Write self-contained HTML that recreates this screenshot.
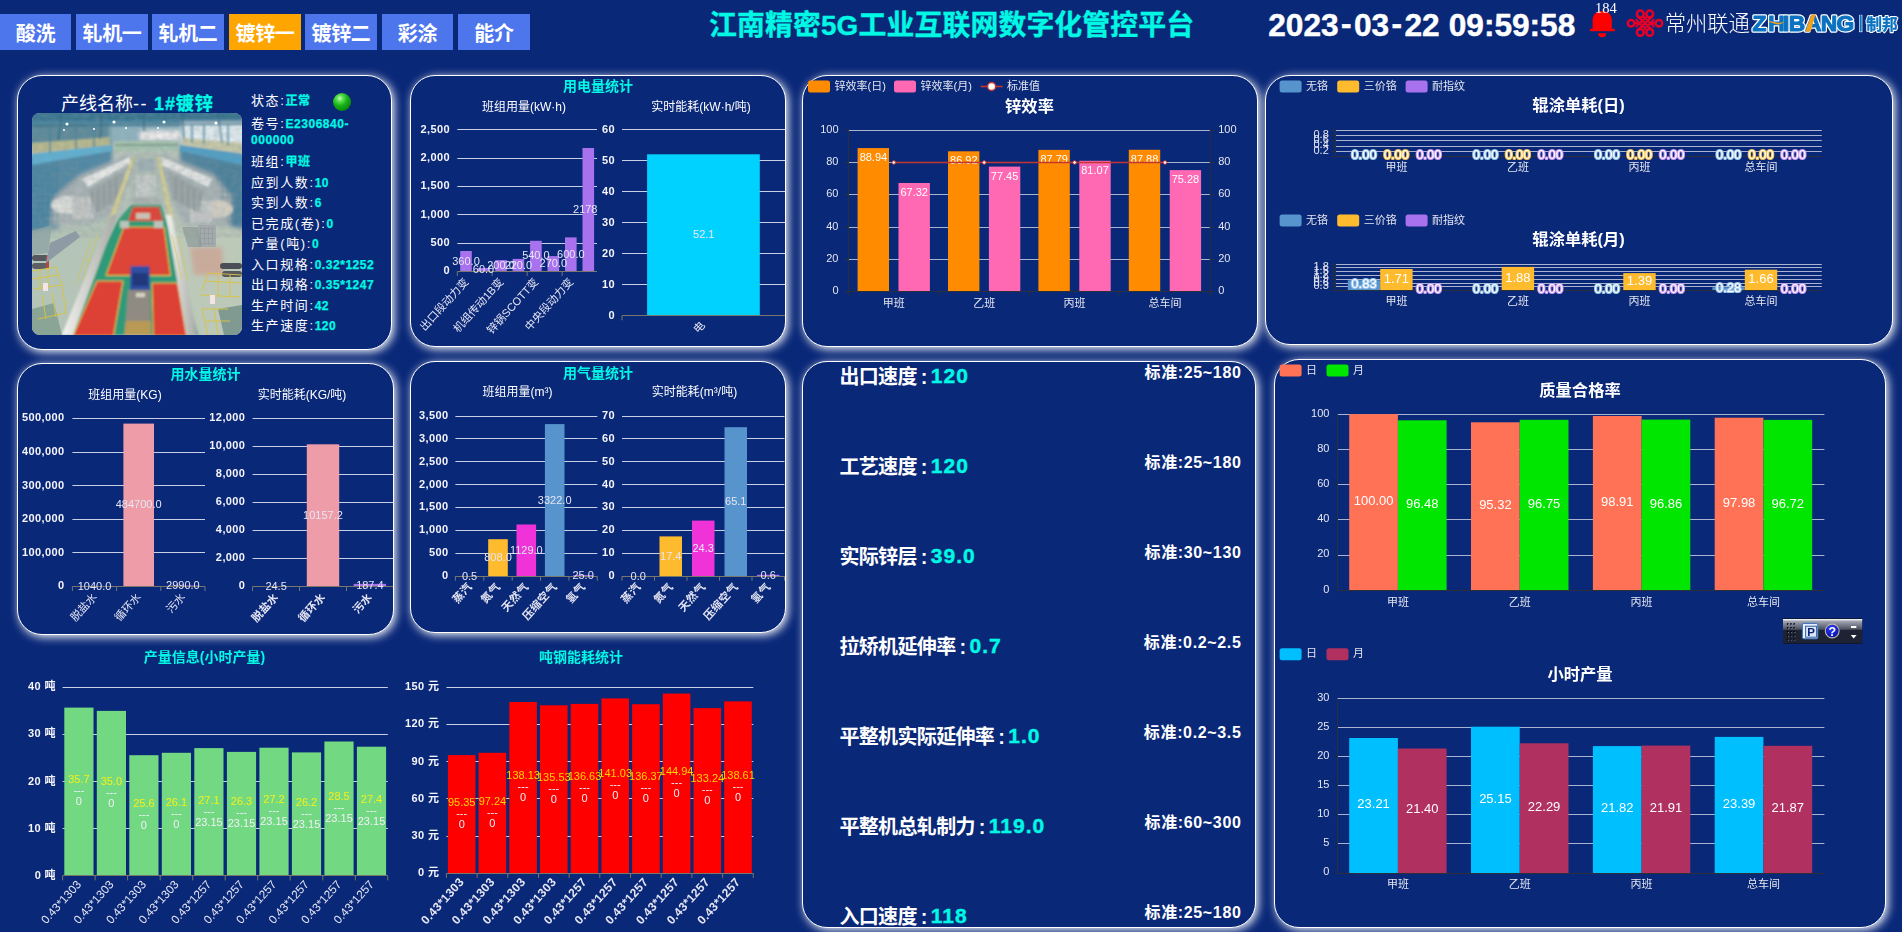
<!DOCTYPE html>
<html lang="zh-CN"><head><meta charset="utf-8"><title>江南精密5G工业互联网数字化管控平台</title>
<style>
*{margin:0;padding:0;box-sizing:border-box}
html,body{width:1902px;height:932px;overflow:hidden;background:#0a2878;}
body{position:relative;font-family:"Liberation Sans","Noto Sans CJK SC",sans-serif;color:#fff;}
.abs{position:absolute}
.tab{position:absolute;top:14px;height:36px;background:#4e76ec;color:#fff;font-weight:bold;font-size:20px;line-height:41px;text-align:center;white-space:nowrap;letter-spacing:-0.3px}
.tab.on{background:#ffa500}
.panel{position:absolute;border:1px solid #fff;border-radius:25px;box-shadow:2px 2px 10px rgba(255,255,255,.97);background:#0a2878}
.t{position:absolute;white-space:nowrap;line-height:1}
.cy{color:#00f8e4}
#clock{-webkit-text-stroke:0.45px #fff}
#clock i{display:inline-block;font-style:normal;text-align:center}
#clock .hy{width:15.3px;position:relative;top:-2px}
#clock .sp{width:9.1px}
#clock .co{width:10.5px}
.b{font-weight:bold}
svg{position:absolute;left:0;top:0;overflow:visible}
svg text{font-family:"Liberation Sans","Noto Sans CJK SC",sans-serif}
.info{position:absolute;left:251px;font-size:13px;letter-spacing:1.6px;white-space:nowrap;line-height:16px;color:#fff}
.info b{color:#00f8e4;font-size:12px;letter-spacing:0.55px;-webkit-text-stroke:0.25px #00f8e4}
.row{position:absolute;left:839.4px;font-size:20px;letter-spacing:-0.65px;font-weight:bold;white-space:nowrap;line-height:24px}
.std{position:absolute;right:660.5px;font-size:16px;font-weight:bold;white-space:nowrap;line-height:20px;letter-spacing:0.65px}
.row i{font-style:normal;margin:0 1.2px 0 4px}
.row span{letter-spacing:1px;margin-left:2.8px;font-size:21px;position:relative;top:-1.2px;-webkit-text-stroke:0.4px #00f8e4}
</style></head><body>
<div class="panel" style="left:17px;top:75px;width:375px;height:275px"></div>
<div class="panel" style="left:410px;top:75px;width:376px;height:272px"></div>
<div class="panel" style="left:802px;top:75px;width:456px;height:272px"></div>
<div class="panel" style="left:1265px;top:75px;width:628px;height:270px"></div>
<div class="panel" style="left:17px;top:363px;width:377px;height:272px"></div>
<div class="panel" style="left:410px;top:361px;width:376px;height:272px"></div>
<div class="panel" style="left:802px;top:361px;width:454px;height:567px"></div>
<div class="panel" style="left:1274px;top:359px;width:612px;height:569px"></div>
<div class="tab" style="left:0px;width:71px">酸洗</div>
<div class="tab" style="left:76px;width:72px">轧机一</div>
<div class="tab" style="left:152px;width:72px">轧机二</div>
<div class="tab on" style="left:229px;width:72px">镀锌一</div>
<div class="tab" style="left:305px;width:72px">镀锌二</div>
<div class="tab" style="left:382px;width:71px">彩涂</div>
<div class="tab" style="left:458px;width:72px">能介</div>
<div class="t b cy" id="title" style="left:709px;top:12.3px;font-size:27.85px;letter-spacing:0.15px;-webkit-text-stroke:0.35px #00f8e4">江南精密5G工业互联网数字化管控平台</div>
<div class="t b" id="clock" style="left:1268.2px;top:9.8px;font-size:31.65px">2023<i class="hy">-</i>03<i class="hy">-</i>22<i class="sp"></i>09<i class="co">:</i>59<i class="co">:</i>58</div>
<div class="t" id="p1t" style="left:61px;top:94px;font-size:18px;line-height:20px">产线名称<span style="letter-spacing:1.5px">--</span> <span class="cy b" style="margin-left:1px;letter-spacing:0.9px;-webkit-text-stroke:0.3px #00f8e4">1#镀锌</span></div>
<div class="info" style="top:93.3px">状态:<b>正常</b></div>
<div class="info" style="top:116.4px">卷号:<b>E2306840-</b></div>
<div class="info" style="top:154.0px">班组:<b>甲班</b></div>
<div class="info" style="top:174.5px">应到人数:<b>10</b></div>
<div class="info" style="top:194.5px">实到人数:<b>6</b></div>
<div class="info" style="top:215.6px">已完成(卷):<b>0</b></div>
<div class="info" style="top:235.8px">产量(吨):<b>0</b></div>
<div class="info" style="top:256.7px">入口规格:<b>0.32*1252</b></div>
<div class="info" style="top:277.2px">出口规格:<b>0.35*1247</b></div>
<div class="info" style="top:297.7px">生产时间:<b>42</b></div>
<div class="info" style="top:318.1px">生产速度:<b>120</b></div>
<div class="info" style="top:132.4px"><b>000000</b></div>
<div class="abs" style="left:333px;top:93px;width:18px;height:18px;border-radius:50%;background:radial-gradient(circle at 38% 30%,#c8ffc0 0%,#5fe050 18%,#16b016 45%,#0a8a0a 75%,#066006 100%)"></div>
<svg style="left:32px;top:113px;border-radius:8px;overflow:hidden" width="210" height="222" viewBox="0 0 210 222">
<defs>
<filter id="bl1" x="-10%" y="-10%" width="120%" height="120%"><feGaussianBlur stdDeviation="0.9"/></filter>
<filter id="bl2" x="-10%" y="-10%" width="120%" height="120%"><feGaussianBlur stdDeviation="2"/></filter>
<filter id="bl05" x="-10%" y="-10%" width="120%" height="120%"><feGaussianBlur stdDeviation="0.5"/></filter>
<linearGradient id="roof" x1="0" y1="0" x2="0" y2="1"><stop offset="0" stop-color="#2f6a86"/><stop offset="1" stop-color="#4f8ea8"/></linearGradient>
<linearGradient id="cvl" x1="0" y1="0" x2="1" y2="0"><stop offset="0" stop-color="#f2f2ee"/><stop offset="1" stop-color="#a8aaa6"/></linearGradient>
<filter id="nz" x="0" y="0" width="100%" height="100%"><feTurbulence type="fractalNoise" baseFrequency="0.16 0.2" numOctaves="2" seed="7" result="t"/><feColorMatrix type="matrix" values="0 0 0 0 0.25  0 0 0 0 0.3  0 0 0 0 0.32  0.9 0.9 0 0 -0.62"/></filter>
<pattern id="grid" width="5" height="6" patternUnits="userSpaceOnUse"><path d="M0 0H5M0 0V6" stroke="#3c6f86" stroke-width="1" fill="none"/></pattern>
<pattern id="grid2" width="4" height="5" patternUnits="userSpaceOnUse"><path d="M0 0H4M0 0V5" stroke="#7c8c90" stroke-width=".7" fill="none"/></pattern>
</defs>
<rect width="210" height="222" fill="#b9c4bb"/>
<g filter="url(#bl2)">
<rect x="-5" y="-5" width="220" height="20" fill="url(#roof)"/>
<rect x="-5" y="12" width="85" height="20" fill="#5d8a9a"/>
<rect x="78" y="12" width="75" height="18" fill="#8fb4c0"/>
<rect x="150" y="10" width="65" height="22" fill="#dfeaee"/>
<rect x="108" y="18" width="40" height="9" fill="#f0ecec"/>
<polygon points="-5,44 80,34 80,62 46,70 26,118 -5,124" fill="#4f88a6"/>
<polygon points="215,44 148,34 148,60 178,70 192,112 215,118" fill="#4f849e"/>
<polygon points="48,62 100,40 101,62 84,100 62,112 18,112 22,84" fill="#aab4b6"/>
<polygon points="128,40 182,62 200,84 198,114 152,112 130,64" fill="#a8b2b4"/>
<polygon points="101,40 127,40 132,96 98,96" fill="#aebcb4"/>
<polygon points="-5,120 62,110 84,100 30,222 -5,222" fill="#b4c4b6"/>
<polygon points="134,100 156,112 215,116 215,222 166,222" fill="#bcc8b8"/>
<polygon points="158,134 190,134 192,162 162,162" fill="#c9ab9c"/>
</g>
<g filter="url(#bl1)">
<polygon points="0,52 26,46 26,110 0,116" fill="url(#grid)" opacity=".8"/>
<polygon points="26,50 46,46 46,70 28,100" fill="url(#grid2)" opacity=".8"/>
<polygon points="182,50 210,52 210,112 192,108" fill="url(#grid)" opacity=".8"/>
<polygon points="0,30 78,24 78,32 0,40" fill="#b8b98c"/>
<polygon points="150,25 210,30 210,40 150,32" fill="#c6c7a6"/>
<polygon points="0,41 80,32 80,38 0,52" fill="#5eb0d2"/>
<polygon points="148,32 210,41 210,52 148,38" fill="#4f9fc6"/>
<rect x="83" y="28" width="63" height="10" fill="#a8c4b0"/>
<rect x="83" y="31" width="63" height="2" fill="#7fa08c"/>
<g stroke="#2f6680" stroke-width="1.6" opacity=".75"><path d="M0 6 L210 4 M0 13 L210 11 M30 0 L26 28 M70 0 L68 26 M112 0 L112 18 M150 0 L152 26 M186 0 L190 30"/></g>
<g stroke="#3b7f9c" stroke-width="1.6" opacity=".8"><path d="M160 12 L160 30 M172 12 L172 31 M196 12 L196 33 M18 14 L18 40 M44 14 L44 36 M62 14 L62 34"/></g>
<ellipse cx="36" cy="92" rx="17" ry="9" fill="#dadcd8"/><rect x="40" y="84" width="22" height="22" fill="#c2c6c4"/>
<ellipse cx="184" cy="96" rx="17" ry="9" fill="#d4cfc4"/><rect x="158" y="88" width="22" height="22" fill="#c4c8c6"/>
<polygon points="50,66 98,44 98,50 56,74" fill="#e4e6e4"/><polygon points="130,44 180,66 176,74 130,52" fill="#e2e4e2"/>
<polygon points="56,78 92,58 90,86 64,100" fill="#9aa4a4" opacity=".8"/><polygon points="136,58 172,78 166,100 140,86" fill="#9aa4a4" opacity=".8"/>
<g stroke="#6c7878" stroke-width=".8" opacity=".7"><path d="M60 80V100M66 76V98M72 72V94M78 68V90M84 64V86M144 64V86M150 68V90M156 72V94M162 76V98M168 80V100"/></g>
<rect x="106" y="46" width="16" height="12" fill="#9fb0b4"/><rect x="104" y="62" width="20" height="28" fill="#c4cac8"/><rect x="102" y="84" width="25" height="8" fill="#aab4b0"/>
<polygon points="100,44 103,44 84,100 76,108" fill="#d6cf8e"/><polygon points="125,44 128,44 142,108 136,100" fill="#d6cf8e"/>
</g><rect width="210" height="125" filter="url(#nz)" opacity=".38"/><g filter="url(#bl1)">
<polygon points="86,107 134,107 166,222 30,222" fill="#2f9a78"/>
<polygon points="99,92 129,92 134,107 86,107" fill="#3a9c7c"/>
<polygon points="101,94 127,94 131,108 96,108" fill="#d8483c"/>
<polygon points="92,114 132,114 138.5,162.5 74,162.5" fill="#dc4437" stroke="#e8d23c" stroke-width=".9"/>
<polygon points="65,168 91,168 81.5,223 41,223" fill="#dd4034" stroke="#e8d23c" stroke-width=".9"/>
<polygon points="120,170 145.5,170 154.5,223 121.4,223" fill="#dd4034" stroke="#e8d23c" stroke-width=".9"/>
<polygon points="79,102 85.3,102 41,222 29.6,222" fill="url(#cvl)"/>
<polygon points="134,102 139.8,102 165,222 154.3,222" fill="url(#cvl)"/>
<rect x="104" y="100" width="14" height="6" fill="#c9c2b2"/>
<rect x="88" y="108" width="9" height="7" fill="#b9c4bc"/><rect x="122" y="108" width="9" height="7" fill="#b9c4bc"/>
<polygon points="98.6,153 117.6,153 118,177 98,177" fill="#2d50a2"/>
<polygon points="100.5,160 116,160 116,173 100.5,173" fill="#22397a"/>
<polygon points="96,177 118,177 119,222 92.3,222" fill="#8f8b82"/>
<polygon points="94,208 118.7,208 119,222 92.3,222" fill="#b99a54"/>
<rect x="104" y="180" width="9" height="4" fill="#d8d4c4"/>
</g>
<g filter="url(#bl05)">
<rect x="0" y="142" width="17" height="6" rx="3" fill="#55585e"/><rect x="0" y="150" width="16" height="6" rx="3" fill="#5c5f64"/><rect x="14" y="143" width="3" height="12" fill="#b04a40"/>
<rect x="188" y="150" width="22" height="6" rx="3" fill="#4c4f55"/><rect x="190" y="158" width="20" height="6" rx="3" fill="#55585e"/>
<polygon points="18,130 44,118 48,124 14,150" fill="#8e9aa4"/>
<rect x="166" y="112" width="18" height="22" fill="#a4aaac"/><rect x="168" y="114" width="14" height="18" fill="url(#grid2)"/>
<polygon points="0,196 22,190 30,222 0,222" fill="#7f9c8e" opacity=".8"/><polygon points="186,196 210,192 210,222 192,222" fill="#6f8f88" opacity=".8"/><polygon points="0,118 20,112 16,140 0,142" fill="#8fa4a4" opacity=".8"/><polygon points="150,114 166,114 170,134 156,134" fill="#8c9a98" opacity=".7"/>
<g stroke="#dcc43c" stroke-width="1" fill="none" opacity=".9"><path d="M0 158 L24 154 L30 172 M0 166 L26 162 M8 157 V176 M16 156 V174 M2 176 L30 172 L34 200 M10 182 L14 206 M20 180 L24 204 M6 206 L34 200"/><path d="M210 162 L176 160 L170 178 M210 170 L174 168 M186 161 V182 M198 162 V184 M168 182 L208 184 M170 196 L176 222 M182 196 L186 222 M170 196 H196 M174 208 H198"/><path d="M60 124 L44 170 M66 122 L50 168 M52 146 L58 148 M146 124 L156 168 M140 122 L150 166" stroke-width=".8" opacity=".8"/></g>
<rect x="11" y="170" width="5" height="8" fill="#f4e4e4"/><rect x="178" y="182" width="5" height="9" fill="#f4e4e4"/>
<g fill="#fff"><circle cx="35" cy="11" r="1.6"/><circle cx="82" cy="9" r="1.6"/><circle cx="132" cy="9" r="1.6"/><circle cx="184" cy="10" r="1.6"/><circle cx="62" cy="16" r="1.1"/><circle cx="94" cy="15" r="1.1"/><circle cx="126" cy="15" r="1.1"/><circle cx="32" cy="17" r="1"/></g>
</g>
</svg>
<div class="row" style="top:364.8px">出口速度<i>:</i><span class="cy">120</span></div>
<div class="std" style="top:363.4px">标准:25~180</div>
<div class="row" style="top:454.8px">工艺速度<i>:</i><span class="cy">120</span></div>
<div class="std" style="top:453.4px">标准:25~180</div>
<div class="row" style="top:544.8px">实际锌层<i>:</i><span class="cy">39.0</span></div>
<div class="std" style="top:543.4px">标准:30~130</div>
<div class="row" style="top:634.8px">拉矫机延伸率<i>:</i><span class="cy">0.7</span></div>
<div class="std" style="top:633.4px">标准:0.2~2.5</div>
<div class="row" style="top:724.8px">平整机实际延伸率<i>:</i><span class="cy">1.0</span></div>
<div class="std" style="top:723.4px">标准:0.2~3.5</div>
<div class="row" style="top:814.8px">平整机总轧制力<i>:</i><span class="cy">119.0</span></div>
<div class="std" style="top:813.4px">标准:60~300</div>
<div class="row" style="top:904.8px">入口速度<i>:</i><span class="cy">118</span></div>
<div class="std" style="top:903.4px">标准:25~180</div>
<svg width="1902" height="932" viewBox="0 0 1902 932">
<g fill="#ff0000"><path d="M1592.6 29.2 V20.5 C1592.6 14.5 1596.6 11 1602.2 11 C1607.8 11 1611.8 14.5 1611.8 20.5 V29.2 Z"/><rect x="1590" y="28.8" width="24.8" height="2.4"/><path d="M1598 33.2 H1606.2 A4.1 4.1 0 0 1 1598 33.2 Z"/></g>
<text x="1595" y="13" font-family="'Liberation Serif',serif" font-size="14.5" fill="#fff" style="font-family:'Liberation Serif',serif">184</text>
<g fill="none" stroke="#e60027" stroke-width="2.5" stroke-linecap="round" stroke-linejoin="round">
<circle cx="1631.1" cy="23.2" r="3.3"/>
<circle cx="1658.9" cy="23.2" r="3.3"/>
<path d="M1634.6 23.2 H1640.5 M1655.4 23.2 H1649.5"/>
<circle cx="1640.3" cy="14.0" r="3.4"/>
<circle cx="1640.3" cy="32.4" r="3.4"/>
<circle cx="1649.7" cy="14.0" r="3.4"/>
<circle cx="1649.7" cy="32.4" r="3.4"/>
<path d="M1637.4 16.0 L1652.6 30.4 M1652.6 16.0 L1637.4 30.4"/>
<path d="M1643.0 16.2 L1653.8 26.599999999999998 M1647.0 16.2 L1636.2 26.599999999999998 M1643.0 30.2 L1653.8 19.8 M1647.0 30.2 L1636.2 19.8" stroke-width="1.9"/>
</g>
<text x="1664.8" y="31.2" font-size="21.3" font-weight="300" fill="#fff" textLength="85" lengthAdjust="spacingAndGlyphs">常州联通</text>
<g font-weight="bold" fill="#fff" stroke="#fff" stroke-width="3.6" stroke-linejoin="round"><text x="1752.6 1768.3 1783 1788.8 1805 1820.8 1836.6" y="31.2" font-size="22.8">ZHIBANG</text></g>
<g fill="#fff" stroke="#fff" stroke-width="1.5"><rect x="1859.9" y="15.6" width="1.7" height="15.8"/></g>
<g font-weight="bold" fill="#fff" stroke="#fff" stroke-width="2.4" stroke-linejoin="round"><text x="1866.3" y="30" font-size="16" textLength="31.5" lengthAdjust="spacingAndGlyphs">制邦</text></g>
<g font-weight="bold" fill="#0b72c0" stroke="#0b72c0" stroke-width="1.1" stroke-linejoin="round"><text x="1752.6 1768.3 1783 1788.8 1805 1820.8 1836.6" y="31.2" font-size="22.8">ZHIBANG</text></g>
<g font-weight="bold" fill="#0b72c0" stroke="#0b72c0" stroke-width="0.3"><rect x="1859.9" y="15.6" width="1.7" height="15.8"/><text x="1866.3" y="30" font-size="16" textLength="31.5" lengthAdjust="spacingAndGlyphs">制邦</text></g>
<path d="M1805.4 31.6 L1811.4 14.6 L1815.6 14.6 L1810.6 31.6 Z" fill="#f5a01a"/>
<path d="M1768.5 21.6 C1773 20.3 1777 25.2 1784.5 21.2 C1779.5 27.2 1773.5 23.4 1768.5 21.6 Z" fill="#f5a01a"/>
<text x="598" y="91" font-size="14" font-weight="bold" fill="#00f8e4" text-anchor="middle">用电量统计</text>
<text x="524" y="111.3" font-size="12" fill="#fff" text-anchor="middle">班组用量(kW·h)</text>
<text x="701" y="111.3" font-size="12" fill="#fff" text-anchor="middle">实时能耗(kW·h/吨)</text>
<clipPath id="c457_129"><rect x="440" y="120" width="157.8" height="170"/></clipPath>
<g clip-path="url(#c457_129)">
<line x1="457.3" x2="597.0" y1="243.5" y2="243.5" stroke="#c9cfe4" stroke-width="1"/>
<line x1="457.3" x2="597.0" y1="214.5" y2="214.5" stroke="#c9cfe4" stroke-width="1"/>
<line x1="457.3" x2="597.0" y1="186.5" y2="186.5" stroke="#c9cfe4" stroke-width="1"/>
<line x1="457.3" x2="597.0" y1="158.5" y2="158.5" stroke="#c9cfe4" stroke-width="1"/>
<line x1="457.3" x2="597.0" y1="129.5" y2="129.5" stroke="#c9cfe4" stroke-width="1"/>
<rect x="460.2" y="251.0" width="11.6" height="20.4" fill="#a871ee"/>
<rect x="477.7" y="268.0" width="11.6" height="3.4" fill="#a871ee"/>
<rect x="495.2" y="260.1" width="11.6" height="11.3" fill="#a871ee"/>
<rect x="512.6" y="258.9" width="11.6" height="12.5" fill="#a871ee"/>
<rect x="530.1" y="240.8" width="11.6" height="30.6" fill="#a871ee"/>
<rect x="547.5" y="256.1" width="11.6" height="15.3" fill="#a871ee"/>
<rect x="565.0" y="237.4" width="11.6" height="34.0" fill="#a871ee"/>
<rect x="582.5" y="148.0" width="11.6" height="123.4" fill="#a871ee"/>
<line x1="457.3" x2="597.0" y1="271.5" y2="271.5" stroke="#77786a" stroke-width="1"/>
<line x1="457.3" x2="457.3" y1="271.4" y2="275.9" stroke="#77786a" stroke-width="1"/>
<line x1="492.2" x2="492.2" y1="271.4" y2="275.9" stroke="#77786a" stroke-width="1"/>
<line x1="527.1" x2="527.1" y1="271.4" y2="275.9" stroke="#77786a" stroke-width="1"/>
<line x1="562.1" x2="562.1" y1="271.4" y2="275.9" stroke="#77786a" stroke-width="1"/>
<text x="466.0" y="264.5" font-size="11" fill="#e6e6f4" text-anchor="middle">360.0</text>
<text x="483.5" y="273.0" font-size="11" fill="#e6e6f4" text-anchor="middle">60.0</text>
<text x="501.0" y="269.0" font-size="11" fill="#e6e6f4" text-anchor="middle">200.0</text>
<text x="518.4" y="268.5" font-size="11" fill="#e6e6f4" text-anchor="middle">220.0</text>
<text x="535.9" y="259.4" font-size="11" fill="#e6e6f4" text-anchor="middle">540.0</text>
<text x="553.3" y="267.1" font-size="11" fill="#e6e6f4" text-anchor="middle">270.0</text>
<text x="570.8" y="257.7" font-size="11" fill="#e6e6f4" text-anchor="middle">600.0</text>
<text x="597.5" y="213.0" font-size="11" fill="#e6e6f4" text-anchor="end">2178</text>
</g>
<text x="450.0" y="274.3" font-size="11" font-weight="bold" letter-spacing="0.4" fill="#f4f4fa" text-anchor="end">0</text>
<text x="450.0" y="246.0" font-size="11" font-weight="bold" letter-spacing="0.4" fill="#f4f4fa" text-anchor="end">500</text>
<text x="450.0" y="217.7" font-size="11" font-weight="bold" letter-spacing="0.4" fill="#f4f4fa" text-anchor="end">1,000</text>
<text x="450.0" y="189.3" font-size="11" font-weight="bold" letter-spacing="0.4" fill="#f4f4fa" text-anchor="end">1,500</text>
<text x="450.0" y="161.0" font-size="11" font-weight="bold" letter-spacing="0.4" fill="#f4f4fa" text-anchor="end">2,000</text>
<text x="450.0" y="132.7" font-size="11" font-weight="bold" letter-spacing="0.4" fill="#f4f4fa" text-anchor="end">2,500</text>
<text transform="translate(469.0,282.4) rotate(-48)" font-size="11" fill="#e6e6f4" text-anchor="end">出口段动力变</text>
<text transform="translate(504.0,282.4) rotate(-48)" font-size="11" fill="#e6e6f4" text-anchor="end">机组传动1B变</text>
<text transform="translate(538.9,282.4) rotate(-48)" font-size="11" fill="#e6e6f4" text-anchor="end">锌锅SCOTT变</text>
<text transform="translate(573.8,282.4) rotate(-48)" font-size="11" fill="#e6e6f4" text-anchor="end">中央段动力变</text>
<clipPath id="c622_129"><rect x="618" y="120" width="167" height="215"/></clipPath>
<g clip-path="url(#c622_129)">
<line x1="622.0" x2="785.0" y1="284.5" y2="284.5" stroke="#c9cfe4" stroke-width="1"/>
<line x1="622.0" x2="785.0" y1="253.5" y2="253.5" stroke="#c9cfe4" stroke-width="1"/>
<line x1="622.0" x2="785.0" y1="222.5" y2="222.5" stroke="#c9cfe4" stroke-width="1"/>
<line x1="622.0" x2="785.0" y1="191.5" y2="191.5" stroke="#c9cfe4" stroke-width="1"/>
<line x1="622.0" x2="785.0" y1="160.5" y2="160.5" stroke="#c9cfe4" stroke-width="1"/>
<line x1="622.0" x2="785.0" y1="129.5" y2="129.5" stroke="#c9cfe4" stroke-width="1"/>
<rect x="647.1" y="154.3" width="112.7" height="161.5" fill="#00d2ff"/>
<line x1="622.0" x2="785.0" y1="315.5" y2="315.5" stroke="#77786a" stroke-width="1"/>
<line x1="622.0" x2="622.0" y1="315.8" y2="320.3" stroke="#77786a" stroke-width="1"/>
<text x="703.5" y="238.3" font-size="11" fill="#e6e6f4" text-anchor="middle">52.1</text>
</g>
<text x="615.0" y="318.7" font-size="11" font-weight="bold" letter-spacing="0.4" fill="#f4f4fa" text-anchor="end">0</text>
<text x="615.0" y="287.7" font-size="11" font-weight="bold" letter-spacing="0.4" fill="#f4f4fa" text-anchor="end">10</text>
<text x="615.0" y="256.7" font-size="11" font-weight="bold" letter-spacing="0.4" fill="#f4f4fa" text-anchor="end">20</text>
<text x="615.0" y="225.7" font-size="11" font-weight="bold" letter-spacing="0.4" fill="#f4f4fa" text-anchor="end">30</text>
<text x="615.0" y="194.7" font-size="11" font-weight="bold" letter-spacing="0.4" fill="#f4f4fa" text-anchor="end">40</text>
<text x="615.0" y="163.7" font-size="11" font-weight="bold" letter-spacing="0.4" fill="#f4f4fa" text-anchor="end">50</text>
<text x="615.0" y="132.7" font-size="11" font-weight="bold" letter-spacing="0.4" fill="#f4f4fa" text-anchor="end">60</text>
<text transform="translate(705.5,325.8) rotate(-48)" font-size="11" fill="#e6e6f4" text-anchor="end">电</text>
<text x="205.5" y="379" font-size="14" font-weight="bold" fill="#00f8e4" text-anchor="middle">用水量统计</text>
<text x="125" y="399.3" font-size="12" fill="#fff" text-anchor="middle">班组用量(KG)</text>
<text x="302" y="399.3" font-size="12" fill="#fff" text-anchor="middle">实时能耗(KG/吨)</text>
<line x1="72.4" x2="205.0" y1="552.5" y2="552.5" stroke="#c9cfe4" stroke-width="1"/>
<line x1="72.4" x2="205.0" y1="519.5" y2="519.5" stroke="#c9cfe4" stroke-width="1"/>
<line x1="72.4" x2="205.0" y1="485.5" y2="485.5" stroke="#c9cfe4" stroke-width="1"/>
<line x1="72.4" x2="205.0" y1="452.5" y2="452.5" stroke="#c9cfe4" stroke-width="1"/>
<line x1="72.4" x2="205.0" y1="418.5" y2="418.5" stroke="#c9cfe4" stroke-width="1"/>
<rect x="79.2" y="586.2" width="30.6" height="0.3" fill="#3cc"/>
<rect x="123.4" y="423.6" width="30.6" height="162.9" fill="#ee9ca7"/>
<rect x="167.6" y="585.5" width="30.6" height="1.0" fill="#a871ee"/>
<line x1="72.4" x2="205.0" y1="586.5" y2="586.5" stroke="#77786a" stroke-width="1"/>
<line x1="72.4" x2="72.4" y1="586.5" y2="591.0" stroke="#77786a" stroke-width="1"/>
<line x1="116.6" x2="116.6" y1="586.5" y2="591.0" stroke="#77786a" stroke-width="1"/>
<line x1="160.8" x2="160.8" y1="586.5" y2="591.0" stroke="#77786a" stroke-width="1"/>
<line x1="205.0" x2="205.0" y1="586.5" y2="591.0" stroke="#77786a" stroke-width="1"/>
<text x="94.5" y="589.6" font-size="11" fill="#e6e6f4" text-anchor="middle">1040.0</text>
<text x="138.7" y="508.4" font-size="11" fill="#e6e6f4" text-anchor="middle">484700.0</text>
<text x="182.9" y="589.3" font-size="11" fill="#e6e6f4" text-anchor="middle">2990.0</text>
<text x="64.6" y="589.4" font-size="11" font-weight="bold" letter-spacing="0.4" fill="#f4f4fa" text-anchor="end">0</text>
<text x="64.6" y="555.8" font-size="11" font-weight="bold" letter-spacing="0.4" fill="#f4f4fa" text-anchor="end">100,000</text>
<text x="64.6" y="522.2" font-size="11" font-weight="bold" letter-spacing="0.4" fill="#f4f4fa" text-anchor="end">200,000</text>
<text x="64.6" y="488.6" font-size="11" font-weight="bold" letter-spacing="0.4" fill="#f4f4fa" text-anchor="end">300,000</text>
<text x="64.6" y="455.0" font-size="11" font-weight="bold" letter-spacing="0.4" fill="#f4f4fa" text-anchor="end">400,000</text>
<text x="64.6" y="421.4" font-size="11" font-weight="bold" letter-spacing="0.4" fill="#f4f4fa" text-anchor="end">500,000</text>
<text transform="translate(97.5,597.5) rotate(-48)" font-size="11" fill="#e6e6f4" text-anchor="end">脱盐水</text>
<text transform="translate(141.7,597.5) rotate(-48)" font-size="11" fill="#e6e6f4" text-anchor="end">循环水</text>
<text transform="translate(185.9,597.5) rotate(-48)" font-size="11" fill="#e6e6f4" text-anchor="end">污水</text>
<clipPath id="c252_418"><rect x="248" y="410" width="145" height="190"/></clipPath>
<g clip-path="url(#c252_418)">
<line x1="252.6" x2="393.4" y1="558.5" y2="558.5" stroke="#c9cfe4" stroke-width="1"/>
<line x1="252.6" x2="393.4" y1="530.5" y2="530.5" stroke="#c9cfe4" stroke-width="1"/>
<line x1="252.6" x2="393.4" y1="502.5" y2="502.5" stroke="#c9cfe4" stroke-width="1"/>
<line x1="252.6" x2="393.4" y1="474.5" y2="474.5" stroke="#c9cfe4" stroke-width="1"/>
<line x1="252.6" x2="393.4" y1="446.5" y2="446.5" stroke="#c9cfe4" stroke-width="1"/>
<line x1="252.6" x2="393.4" y1="418.5" y2="418.5" stroke="#c9cfe4" stroke-width="1"/>
<rect x="259.9" y="586.2" width="32.4" height="0.3" fill="#3cc"/>
<rect x="306.8" y="444.3" width="32.4" height="142.2" fill="#ee9ca7"/>
<rect x="353.7" y="583.9" width="32.4" height="2.6" fill="#a871ee"/>
<line x1="252.6" x2="393.4" y1="586.5" y2="586.5" stroke="#77786a" stroke-width="1"/>
<line x1="252.6" x2="252.6" y1="586.5" y2="591.0" stroke="#77786a" stroke-width="1"/>
<line x1="299.5" x2="299.5" y1="586.5" y2="591.0" stroke="#77786a" stroke-width="1"/>
<line x1="346.5" x2="346.5" y1="586.5" y2="591.0" stroke="#77786a" stroke-width="1"/>
<line x1="393.4" x2="393.4" y1="586.5" y2="591.0" stroke="#77786a" stroke-width="1"/>
<text x="276.1" y="589.6" font-size="11" fill="#e6e6f4" text-anchor="middle">24.5</text>
<text x="323.0" y="518.7" font-size="11" fill="#e6e6f4" text-anchor="middle">10157.2</text>
<text x="369.9" y="588.5" font-size="11" fill="#e6e6f4" text-anchor="middle">187.4</text>
</g>
<text x="245.4" y="589.4" font-size="11" font-weight="bold" letter-spacing="0.4" fill="#f4f4fa" text-anchor="end">0</text>
<text x="245.4" y="561.4" font-size="11" font-weight="bold" letter-spacing="0.4" fill="#f4f4fa" text-anchor="end">2,000</text>
<text x="245.4" y="533.4" font-size="11" font-weight="bold" letter-spacing="0.4" fill="#f4f4fa" text-anchor="end">4,000</text>
<text x="245.4" y="505.4" font-size="11" font-weight="bold" letter-spacing="0.4" fill="#f4f4fa" text-anchor="end">6,000</text>
<text x="245.4" y="477.4" font-size="11" font-weight="bold" letter-spacing="0.4" fill="#f4f4fa" text-anchor="end">8,000</text>
<text x="245.4" y="449.4" font-size="11" font-weight="bold" letter-spacing="0.4" fill="#f4f4fa" text-anchor="end">10,000</text>
<text x="245.4" y="421.4" font-size="11" font-weight="bold" letter-spacing="0.4" fill="#f4f4fa" text-anchor="end">12,000</text>
<text transform="translate(279.1,597.5) rotate(-48)" font-size="11" fill="#e6e6f4" text-anchor="end" font-weight="bold" letter-spacing="0.3">脱盐水</text>
<text transform="translate(326.0,597.5) rotate(-48)" font-size="11" fill="#e6e6f4" text-anchor="end" font-weight="bold" letter-spacing="0.3">循环水</text>
<text transform="translate(372.9,597.5) rotate(-48)" font-size="11" fill="#e6e6f4" text-anchor="end" font-weight="bold" letter-spacing="0.3">污水</text>
<text x="598" y="377.5" font-size="14" font-weight="bold" fill="#00f8e4" text-anchor="middle">用气量统计</text>
<text x="517.5" y="396" font-size="12" fill="#fff" text-anchor="middle">班组用量(m³)</text>
<text x="694.5" y="396" font-size="12" fill="#fff" text-anchor="middle">实时能耗(m³/吨)</text>
<line x1="455.4" x2="597.3" y1="553.5" y2="553.5" stroke="#c9cfe4" stroke-width="1"/>
<line x1="455.4" x2="597.3" y1="530.5" y2="530.5" stroke="#c9cfe4" stroke-width="1"/>
<line x1="455.4" x2="597.3" y1="507.5" y2="507.5" stroke="#c9cfe4" stroke-width="1"/>
<line x1="455.4" x2="597.3" y1="484.5" y2="484.5" stroke="#c9cfe4" stroke-width="1"/>
<line x1="455.4" x2="597.3" y1="461.5" y2="461.5" stroke="#c9cfe4" stroke-width="1"/>
<line x1="455.4" x2="597.3" y1="438.5" y2="438.5" stroke="#c9cfe4" stroke-width="1"/>
<line x1="455.4" x2="597.3" y1="416.5" y2="416.5" stroke="#c9cfe4" stroke-width="1"/>
<rect x="488.2" y="539.2" width="19.6" height="37.0" fill="#ffbb2e"/>
<rect x="516.5" y="524.5" width="19.6" height="51.7" fill="#f033d8"/>
<rect x="544.9" y="424.1" width="19.6" height="152.1" fill="#5793cc"/>
<rect x="573.3" y="575.1" width="19.6" height="1.1" fill="#a871ee"/>
<line x1="455.4" x2="597.3" y1="576.5" y2="576.5" stroke="#77786a" stroke-width="1"/>
<line x1="455.4" x2="455.4" y1="576.2" y2="580.7" stroke="#77786a" stroke-width="1"/>
<line x1="483.8" x2="483.8" y1="576.2" y2="580.7" stroke="#77786a" stroke-width="1"/>
<line x1="512.2" x2="512.2" y1="576.2" y2="580.7" stroke="#77786a" stroke-width="1"/>
<line x1="540.5" x2="540.5" y1="576.2" y2="580.7" stroke="#77786a" stroke-width="1"/>
<line x1="568.9" x2="568.9" y1="576.2" y2="580.7" stroke="#77786a" stroke-width="1"/>
<line x1="597.3" x2="597.3" y1="576.2" y2="580.7" stroke="#77786a" stroke-width="1"/>
<text x="469.6" y="579.5" font-size="11" fill="#e6e6f4" text-anchor="middle">0.5</text>
<text x="498.0" y="561.0" font-size="11" fill="#e6e6f4" text-anchor="middle">808.0</text>
<text x="526.3" y="553.7" font-size="11" fill="#e6e6f4" text-anchor="middle">1129.0</text>
<text x="554.7" y="503.5" font-size="11" fill="#e6e6f4" text-anchor="middle">3322.0</text>
<text x="583.1" y="578.9" font-size="11" fill="#e6e6f4" text-anchor="middle">25.0</text>
<text x="448.5" y="579.1" font-size="11" font-weight="bold" letter-spacing="0.4" fill="#f4f4fa" text-anchor="end">0</text>
<text x="448.5" y="556.2" font-size="11" font-weight="bold" letter-spacing="0.4" fill="#f4f4fa" text-anchor="end">500</text>
<text x="448.5" y="533.3" font-size="11" font-weight="bold" letter-spacing="0.4" fill="#f4f4fa" text-anchor="end">1,000</text>
<text x="448.5" y="510.4" font-size="11" font-weight="bold" letter-spacing="0.4" fill="#f4f4fa" text-anchor="end">1,500</text>
<text x="448.5" y="487.6" font-size="11" font-weight="bold" letter-spacing="0.4" fill="#f4f4fa" text-anchor="end">2,000</text>
<text x="448.5" y="464.7" font-size="11" font-weight="bold" letter-spacing="0.4" fill="#f4f4fa" text-anchor="end">2,500</text>
<text x="448.5" y="441.8" font-size="11" font-weight="bold" letter-spacing="0.4" fill="#f4f4fa" text-anchor="end">3,000</text>
<text x="448.5" y="418.9" font-size="11" font-weight="bold" letter-spacing="0.4" fill="#f4f4fa" text-anchor="end">3,500</text>
<text transform="translate(472.6,587.2) rotate(-48)" font-size="11" fill="#e6e6f4" text-anchor="end" font-weight="bold" letter-spacing="0.3">蒸汽</text>
<text transform="translate(501.0,587.2) rotate(-48)" font-size="11" fill="#e6e6f4" text-anchor="end" font-weight="bold" letter-spacing="0.3">氮气</text>
<text transform="translate(529.3,587.2) rotate(-48)" font-size="11" fill="#e6e6f4" text-anchor="end" font-weight="bold" letter-spacing="0.3">天然气</text>
<text transform="translate(557.7,587.2) rotate(-48)" font-size="11" fill="#e6e6f4" text-anchor="end" font-weight="bold" letter-spacing="0.3">压缩空气</text>
<text transform="translate(586.1,587.2) rotate(-48)" font-size="11" fill="#e6e6f4" text-anchor="end" font-weight="bold" letter-spacing="0.3">氢气</text>
<clipPath id="c622_416"><rect x="618" y="405" width="167" height="180"/></clipPath>
<g clip-path="url(#c622_416)">
<line x1="622.0" x2="784.5" y1="553.5" y2="553.5" stroke="#c9cfe4" stroke-width="1"/>
<line x1="622.0" x2="784.5" y1="530.5" y2="530.5" stroke="#c9cfe4" stroke-width="1"/>
<line x1="622.0" x2="784.5" y1="507.5" y2="507.5" stroke="#c9cfe4" stroke-width="1"/>
<line x1="622.0" x2="784.5" y1="484.5" y2="484.5" stroke="#c9cfe4" stroke-width="1"/>
<line x1="622.0" x2="784.5" y1="461.5" y2="461.5" stroke="#c9cfe4" stroke-width="1"/>
<line x1="622.0" x2="784.5" y1="438.5" y2="438.5" stroke="#c9cfe4" stroke-width="1"/>
<line x1="622.0" x2="784.5" y1="416.5" y2="416.5" stroke="#c9cfe4" stroke-width="1"/>
<rect x="659.5" y="536.4" width="22.5" height="39.8" fill="#ffbb2e"/>
<rect x="692.0" y="520.6" width="22.5" height="55.6" fill="#f033d8"/>
<rect x="724.5" y="427.2" width="22.5" height="149.0" fill="#5793cc"/>
<rect x="757.0" y="574.8" width="22.5" height="1.4" fill="#a871ee"/>
<line x1="622.0" x2="784.5" y1="576.5" y2="576.5" stroke="#77786a" stroke-width="1"/>
<line x1="622.0" x2="622.0" y1="576.2" y2="580.7" stroke="#77786a" stroke-width="1"/>
<line x1="654.5" x2="654.5" y1="576.2" y2="580.7" stroke="#77786a" stroke-width="1"/>
<line x1="687.0" x2="687.0" y1="576.2" y2="580.7" stroke="#77786a" stroke-width="1"/>
<line x1="719.5" x2="719.5" y1="576.2" y2="580.7" stroke="#77786a" stroke-width="1"/>
<line x1="752.0" x2="752.0" y1="576.2" y2="580.7" stroke="#77786a" stroke-width="1"/>
<line x1="784.5" x2="784.5" y1="576.2" y2="580.7" stroke="#77786a" stroke-width="1"/>
<text x="638.2" y="579.5" font-size="11" fill="#e6e6f4" text-anchor="middle">0.0</text>
<text x="670.8" y="559.6" font-size="11" fill="#e6e6f4" text-anchor="middle">17.4</text>
<text x="703.2" y="551.7" font-size="11" fill="#e6e6f4" text-anchor="middle">24.3</text>
<text x="735.8" y="505.0" font-size="11" fill="#e6e6f4" text-anchor="middle">65.1</text>
<text x="768.2" y="578.8" font-size="11" fill="#e6e6f4" text-anchor="middle">0.6</text>
</g>
<text x="615.0" y="579.1" font-size="11" font-weight="bold" letter-spacing="0.4" fill="#f4f4fa" text-anchor="end">0</text>
<text x="615.0" y="556.2" font-size="11" font-weight="bold" letter-spacing="0.4" fill="#f4f4fa" text-anchor="end">10</text>
<text x="615.0" y="533.3" font-size="11" font-weight="bold" letter-spacing="0.4" fill="#f4f4fa" text-anchor="end">20</text>
<text x="615.0" y="510.4" font-size="11" font-weight="bold" letter-spacing="0.4" fill="#f4f4fa" text-anchor="end">30</text>
<text x="615.0" y="487.6" font-size="11" font-weight="bold" letter-spacing="0.4" fill="#f4f4fa" text-anchor="end">40</text>
<text x="615.0" y="464.7" font-size="11" font-weight="bold" letter-spacing="0.4" fill="#f4f4fa" text-anchor="end">50</text>
<text x="615.0" y="441.8" font-size="11" font-weight="bold" letter-spacing="0.4" fill="#f4f4fa" text-anchor="end">60</text>
<text x="615.0" y="418.9" font-size="11" font-weight="bold" letter-spacing="0.4" fill="#f4f4fa" text-anchor="end">70</text>
<text transform="translate(641.2,587.2) rotate(-48)" font-size="11" fill="#e6e6f4" text-anchor="end" font-weight="bold" letter-spacing="0.3">蒸汽</text>
<text transform="translate(673.8,587.2) rotate(-48)" font-size="11" fill="#e6e6f4" text-anchor="end" font-weight="bold" letter-spacing="0.3">氮气</text>
<text transform="translate(706.2,587.2) rotate(-48)" font-size="11" fill="#e6e6f4" text-anchor="end" font-weight="bold" letter-spacing="0.3">天然气</text>
<text transform="translate(738.8,587.2) rotate(-48)" font-size="11" fill="#e6e6f4" text-anchor="end" font-weight="bold" letter-spacing="0.3">压缩空气</text>
<text transform="translate(771.2,587.2) rotate(-48)" font-size="11" fill="#e6e6f4" text-anchor="end" font-weight="bold" letter-spacing="0.3">氢气</text>
<text x="204.5" y="662" font-size="14" font-weight="bold" fill="#00f8e4" text-anchor="middle">产量信息(小时产量)</text>
<line x1="62.6" x2="387.8" y1="828.5" y2="828.5" stroke="#c9cfe4" stroke-width="1"/>
<line x1="62.6" x2="387.8" y1="781.5" y2="781.5" stroke="#c9cfe4" stroke-width="1"/>
<line x1="62.6" x2="387.8" y1="734.5" y2="734.5" stroke="#c9cfe4" stroke-width="1"/>
<line x1="62.6" x2="387.8" y1="687.5" y2="687.5" stroke="#c9cfe4" stroke-width="1"/>
<rect x="64.3" y="707.6" width="29.2" height="168.3" fill="#73d882"/>
<rect x="96.8" y="710.9" width="29.2" height="165.0" fill="#73d882"/>
<rect x="129.3" y="755.2" width="29.2" height="120.7" fill="#73d882"/>
<rect x="161.8" y="752.8" width="29.2" height="123.1" fill="#73d882"/>
<rect x="194.3" y="748.1" width="29.2" height="127.8" fill="#73d882"/>
<rect x="226.9" y="751.9" width="29.2" height="124.0" fill="#73d882"/>
<rect x="259.4" y="747.7" width="29.2" height="128.2" fill="#73d882"/>
<rect x="291.9" y="752.4" width="29.2" height="123.5" fill="#73d882"/>
<rect x="324.4" y="741.5" width="29.2" height="134.4" fill="#73d882"/>
<rect x="356.9" y="746.7" width="29.2" height="129.2" fill="#73d882"/>
<line x1="62.6" x2="387.8" y1="875.5" y2="875.5" stroke="#77786a" stroke-width="1"/>
<line x1="62.6" x2="62.6" y1="875.9" y2="880.4" stroke="#77786a" stroke-width="1"/>
<line x1="95.1" x2="95.1" y1="875.9" y2="880.4" stroke="#77786a" stroke-width="1"/>
<line x1="127.6" x2="127.6" y1="875.9" y2="880.4" stroke="#77786a" stroke-width="1"/>
<line x1="160.2" x2="160.2" y1="875.9" y2="880.4" stroke="#77786a" stroke-width="1"/>
<line x1="192.7" x2="192.7" y1="875.9" y2="880.4" stroke="#77786a" stroke-width="1"/>
<line x1="225.2" x2="225.2" y1="875.9" y2="880.4" stroke="#77786a" stroke-width="1"/>
<line x1="257.7" x2="257.7" y1="875.9" y2="880.4" stroke="#77786a" stroke-width="1"/>
<line x1="290.2" x2="290.2" y1="875.9" y2="880.4" stroke="#77786a" stroke-width="1"/>
<line x1="322.8" x2="322.8" y1="875.9" y2="880.4" stroke="#77786a" stroke-width="1"/>
<line x1="355.3" x2="355.3" y1="875.9" y2="880.4" stroke="#77786a" stroke-width="1"/>
<line x1="387.8" x2="387.8" y1="875.9" y2="880.4" stroke="#77786a" stroke-width="1"/>
<text x="78.9" y="783.2" font-size="11" fill="#f4f01a" text-anchor="middle">35.7</text>
<text x="78.9" y="794.2" font-size="11" fill="#eef" text-anchor="middle">---</text>
<text x="78.9" y="805.2" font-size="11" fill="#f0f0f8" text-anchor="middle">0</text>
<text x="111.4" y="784.9" font-size="11" fill="#f4f01a" text-anchor="middle">35.0</text>
<text x="111.4" y="795.9" font-size="11" fill="#eef" text-anchor="middle">---</text>
<text x="111.4" y="806.9" font-size="11" fill="#f0f0f8" text-anchor="middle">0</text>
<text x="143.9" y="807.0" font-size="11" fill="#f4f01a" text-anchor="middle">25.6</text>
<text x="143.9" y="818.0" font-size="11" fill="#eef" text-anchor="middle">---</text>
<text x="143.9" y="829.0" font-size="11" fill="#f0f0f8" text-anchor="middle">0</text>
<text x="176.4" y="805.9" font-size="11" fill="#f4f01a" text-anchor="middle">26.1</text>
<text x="176.4" y="816.9" font-size="11" fill="#eef" text-anchor="middle">---</text>
<text x="176.4" y="827.9" font-size="11" fill="#f0f0f8" text-anchor="middle">0</text>
<text x="208.9" y="803.5" font-size="11" fill="#f4f01a" text-anchor="middle">27.1</text>
<text x="208.9" y="814.5" font-size="11" fill="#eef" text-anchor="middle">---</text>
<text x="208.9" y="825.5" font-size="11" fill="#f0f0f8" text-anchor="middle">23.15</text>
<text x="241.5" y="805.4" font-size="11" fill="#f4f01a" text-anchor="middle">26.3</text>
<text x="241.5" y="816.4" font-size="11" fill="#eef" text-anchor="middle">---</text>
<text x="241.5" y="827.4" font-size="11" fill="#f0f0f8" text-anchor="middle">23.15</text>
<text x="274.0" y="803.3" font-size="11" fill="#f4f01a" text-anchor="middle">27.2</text>
<text x="274.0" y="814.3" font-size="11" fill="#eef" text-anchor="middle">---</text>
<text x="274.0" y="825.3" font-size="11" fill="#f0f0f8" text-anchor="middle">23.15</text>
<text x="306.5" y="805.6" font-size="11" fill="#f4f01a" text-anchor="middle">26.2</text>
<text x="306.5" y="816.6" font-size="11" fill="#eef" text-anchor="middle">---</text>
<text x="306.5" y="827.6" font-size="11" fill="#f0f0f8" text-anchor="middle">23.15</text>
<text x="339.0" y="800.2" font-size="11" fill="#f4f01a" text-anchor="middle">28.5</text>
<text x="339.0" y="811.2" font-size="11" fill="#eef" text-anchor="middle">---</text>
<text x="339.0" y="822.2" font-size="11" fill="#f0f0f8" text-anchor="middle">23.15</text>
<text x="371.5" y="802.8" font-size="11" fill="#f4f01a" text-anchor="middle">27.4</text>
<text x="371.5" y="813.8" font-size="11" fill="#eef" text-anchor="middle">---</text>
<text x="371.5" y="824.8" font-size="11" fill="#f0f0f8" text-anchor="middle">23.15</text>
<text x="56.0" y="878.8" font-size="11" font-weight="bold" letter-spacing="0.4" fill="#f4f4fa" text-anchor="end">0 吨</text>
<text x="56.0" y="831.6" font-size="11" font-weight="bold" letter-spacing="0.4" fill="#f4f4fa" text-anchor="end">10 吨</text>
<text x="56.0" y="784.5" font-size="11" font-weight="bold" letter-spacing="0.4" fill="#f4f4fa" text-anchor="end">20 吨</text>
<text x="56.0" y="737.3" font-size="11" font-weight="bold" letter-spacing="0.4" fill="#f4f4fa" text-anchor="end">30 吨</text>
<text x="56.0" y="690.2" font-size="11" font-weight="bold" letter-spacing="0.4" fill="#f4f4fa" text-anchor="end">40 吨</text>
<text transform="translate(81.9,884.9) rotate(-48)" font-size="11.7" fill="#e6e6f4" text-anchor="end">0.43*1303</text>
<text transform="translate(114.4,884.9) rotate(-48)" font-size="11.7" fill="#e6e6f4" text-anchor="end">0.43*1303</text>
<text transform="translate(146.9,884.9) rotate(-48)" font-size="11.7" fill="#e6e6f4" text-anchor="end">0.43*1303</text>
<text transform="translate(179.4,884.9) rotate(-48)" font-size="11.7" fill="#e6e6f4" text-anchor="end">0.43*1303</text>
<text transform="translate(211.9,884.9) rotate(-48)" font-size="11.7" fill="#e6e6f4" text-anchor="end">0.43*1257</text>
<text transform="translate(244.5,884.9) rotate(-48)" font-size="11.7" fill="#e6e6f4" text-anchor="end">0.43*1257</text>
<text transform="translate(277.0,884.9) rotate(-48)" font-size="11.7" fill="#e6e6f4" text-anchor="end">0.43*1257</text>
<text transform="translate(309.5,884.9) rotate(-48)" font-size="11.7" fill="#e6e6f4" text-anchor="end">0.43*1257</text>
<text transform="translate(342.0,884.9) rotate(-48)" font-size="11.7" fill="#e6e6f4" text-anchor="end">0.43*1257</text>
<text transform="translate(374.5,884.9) rotate(-48)" font-size="11.7" fill="#e6e6f4" text-anchor="end">0.43*1257</text>
<text x="581" y="662" font-size="14" font-weight="bold" fill="#00f8e4" text-anchor="middle">吨钢能耗统计</text>
<line x1="446.4" x2="753.3" y1="836.5" y2="836.5" stroke="#c9cfe4" stroke-width="1"/>
<line x1="446.4" x2="753.3" y1="798.5" y2="798.5" stroke="#c9cfe4" stroke-width="1"/>
<line x1="446.4" x2="753.3" y1="761.5" y2="761.5" stroke="#c9cfe4" stroke-width="1"/>
<line x1="446.4" x2="753.3" y1="724.5" y2="724.5" stroke="#c9cfe4" stroke-width="1"/>
<line x1="446.4" x2="753.3" y1="687.5" y2="687.5" stroke="#c9cfe4" stroke-width="1"/>
<rect x="447.9" y="755.1" width="27.6" height="118.3" fill="#fe0000"/>
<rect x="478.6" y="752.8" width="27.6" height="120.6" fill="#fe0000"/>
<rect x="509.3" y="702.0" width="27.6" height="171.4" fill="#fe0000"/>
<rect x="540.0" y="705.3" width="27.6" height="168.1" fill="#fe0000"/>
<rect x="570.7" y="703.9" width="27.6" height="169.5" fill="#fe0000"/>
<rect x="601.4" y="698.4" width="27.6" height="175.0" fill="#fe0000"/>
<rect x="632.1" y="704.2" width="27.6" height="169.2" fill="#fe0000"/>
<rect x="662.8" y="693.6" width="27.6" height="179.8" fill="#fe0000"/>
<rect x="693.5" y="708.1" width="27.6" height="165.3" fill="#fe0000"/>
<rect x="724.2" y="701.4" width="27.6" height="172.0" fill="#fe0000"/>
<line x1="446.4" x2="753.3" y1="873.5" y2="873.5" stroke="#77786a" stroke-width="1"/>
<line x1="446.4" x2="446.4" y1="873.4" y2="877.9" stroke="#77786a" stroke-width="1"/>
<line x1="477.1" x2="477.1" y1="873.4" y2="877.9" stroke="#77786a" stroke-width="1"/>
<line x1="507.8" x2="507.8" y1="873.4" y2="877.9" stroke="#77786a" stroke-width="1"/>
<line x1="538.5" x2="538.5" y1="873.4" y2="877.9" stroke="#77786a" stroke-width="1"/>
<line x1="569.2" x2="569.2" y1="873.4" y2="877.9" stroke="#77786a" stroke-width="1"/>
<line x1="599.8" x2="599.8" y1="873.4" y2="877.9" stroke="#77786a" stroke-width="1"/>
<line x1="630.5" x2="630.5" y1="873.4" y2="877.9" stroke="#77786a" stroke-width="1"/>
<line x1="661.2" x2="661.2" y1="873.4" y2="877.9" stroke="#77786a" stroke-width="1"/>
<line x1="691.9" x2="691.9" y1="873.4" y2="877.9" stroke="#77786a" stroke-width="1"/>
<line x1="722.6" x2="722.6" y1="873.4" y2="877.9" stroke="#77786a" stroke-width="1"/>
<line x1="753.3" x2="753.3" y1="873.4" y2="877.9" stroke="#77786a" stroke-width="1"/>
<text x="461.7" y="805.8" font-size="11" fill="#ffd400" text-anchor="middle">95.35</text>
<text x="461.7" y="816.8" font-size="11" fill="#eef" text-anchor="middle">---</text>
<text x="461.7" y="827.8" font-size="11" fill="#f0f0f8" text-anchor="middle">0</text>
<text x="492.4" y="804.6" font-size="11" fill="#ffd400" text-anchor="middle">97.24</text>
<text x="492.4" y="815.6" font-size="11" fill="#eef" text-anchor="middle">---</text>
<text x="492.4" y="826.6" font-size="11" fill="#f0f0f8" text-anchor="middle">0</text>
<text x="523.1" y="779.2" font-size="11" fill="#ffd400" text-anchor="middle">138.13</text>
<text x="523.1" y="790.2" font-size="11" fill="#eef" text-anchor="middle">---</text>
<text x="523.1" y="801.2" font-size="11" fill="#f0f0f8" text-anchor="middle">0</text>
<text x="553.8" y="780.8" font-size="11" fill="#ffd400" text-anchor="middle">135.53</text>
<text x="553.8" y="791.8" font-size="11" fill="#eef" text-anchor="middle">---</text>
<text x="553.8" y="802.8" font-size="11" fill="#f0f0f8" text-anchor="middle">0</text>
<text x="584.5" y="780.1" font-size="11" fill="#ffd400" text-anchor="middle">136.63</text>
<text x="584.5" y="791.1" font-size="11" fill="#eef" text-anchor="middle">---</text>
<text x="584.5" y="802.1" font-size="11" fill="#f0f0f8" text-anchor="middle">0</text>
<text x="615.2" y="777.4" font-size="11" fill="#ffd400" text-anchor="middle">141.03</text>
<text x="615.2" y="788.4" font-size="11" fill="#eef" text-anchor="middle">---</text>
<text x="615.2" y="799.4" font-size="11" fill="#f0f0f8" text-anchor="middle">0</text>
<text x="645.9" y="780.3" font-size="11" fill="#ffd400" text-anchor="middle">136.37</text>
<text x="645.9" y="791.3" font-size="11" fill="#eef" text-anchor="middle">---</text>
<text x="645.9" y="802.3" font-size="11" fill="#f0f0f8" text-anchor="middle">0</text>
<text x="676.6" y="775.0" font-size="11" fill="#ffd400" text-anchor="middle">144.94</text>
<text x="676.6" y="786.0" font-size="11" fill="#eef" text-anchor="middle">---</text>
<text x="676.6" y="797.0" font-size="11" fill="#f0f0f8" text-anchor="middle">0</text>
<text x="707.3" y="782.2" font-size="11" fill="#ffd400" text-anchor="middle">133.24</text>
<text x="707.3" y="793.2" font-size="11" fill="#eef" text-anchor="middle">---</text>
<text x="707.3" y="804.2" font-size="11" fill="#f0f0f8" text-anchor="middle">0</text>
<text x="738.0" y="778.9" font-size="11" fill="#ffd400" text-anchor="middle">138.61</text>
<text x="738.0" y="789.9" font-size="11" fill="#eef" text-anchor="middle">---</text>
<text x="738.0" y="800.9" font-size="11" fill="#f0f0f8" text-anchor="middle">0</text>
<text x="439.4" y="876.3" font-size="11" font-weight="bold" letter-spacing="0.4" fill="#f4f4fa" text-anchor="end">0 元</text>
<text x="439.4" y="839.1" font-size="11" font-weight="bold" letter-spacing="0.4" fill="#f4f4fa" text-anchor="end">30 元</text>
<text x="439.4" y="801.9" font-size="11" font-weight="bold" letter-spacing="0.4" fill="#f4f4fa" text-anchor="end">60 元</text>
<text x="439.4" y="764.6" font-size="11" font-weight="bold" letter-spacing="0.4" fill="#f4f4fa" text-anchor="end">90 元</text>
<text x="439.4" y="727.4" font-size="11" font-weight="bold" letter-spacing="0.4" fill="#f4f4fa" text-anchor="end">120 元</text>
<text x="439.4" y="690.2" font-size="11" font-weight="bold" letter-spacing="0.4" fill="#f4f4fa" text-anchor="end">150 元</text>
<text transform="translate(464.7,882.4) rotate(-48)" font-size="12" fill="#e6e6f4" text-anchor="end" font-weight="bold" letter-spacing="0.3">0.43*1303</text>
<text transform="translate(495.4,882.4) rotate(-48)" font-size="12" fill="#e6e6f4" text-anchor="end" font-weight="bold" letter-spacing="0.3">0.43*1303</text>
<text transform="translate(526.1,882.4) rotate(-48)" font-size="12" fill="#e6e6f4" text-anchor="end" font-weight="bold" letter-spacing="0.3">0.43*1303</text>
<text transform="translate(556.8,882.4) rotate(-48)" font-size="12" fill="#e6e6f4" text-anchor="end" font-weight="bold" letter-spacing="0.3">0.43*1303</text>
<text transform="translate(587.5,882.4) rotate(-48)" font-size="12" fill="#e6e6f4" text-anchor="end" font-weight="bold" letter-spacing="0.3">0.43*1257</text>
<text transform="translate(618.2,882.4) rotate(-48)" font-size="12" fill="#e6e6f4" text-anchor="end" font-weight="bold" letter-spacing="0.3">0.43*1257</text>
<text transform="translate(648.9,882.4) rotate(-48)" font-size="12" fill="#e6e6f4" text-anchor="end" font-weight="bold" letter-spacing="0.3">0.43*1257</text>
<text transform="translate(679.6,882.4) rotate(-48)" font-size="12" fill="#e6e6f4" text-anchor="end" font-weight="bold" letter-spacing="0.3">0.43*1257</text>
<text transform="translate(710.3,882.4) rotate(-48)" font-size="12" fill="#e6e6f4" text-anchor="end" font-weight="bold" letter-spacing="0.3">0.43*1257</text>
<text transform="translate(741.0,882.4) rotate(-48)" font-size="12" fill="#e6e6f4" text-anchor="end" font-weight="bold" letter-spacing="0.3">0.43*1257</text>
<rect x="808" y="80.5" width="22" height="12" rx="2.5" fill="#ff8c00"/>
<text x="834.5" y="89.5" font-size="11" fill="#e4e6f0">锌效率(日)</text>
<rect x="894" y="80.5" width="22" height="12" rx="2.5" fill="#ff69b4"/>
<text x="920.5" y="89.5" font-size="11" fill="#e4e6f0">锌效率(月)</text>
<line x1="980.6" x2="1002.6" y1="86.5" y2="86.5" stroke="#c23531" stroke-width="1.6"/><circle cx="991.6" cy="86.5" r="4" fill="#fff" stroke="#c23531" stroke-width="1.4"/>
<text x="1007.1" y="89.5" font-size="11" fill="#e4e6f0">标准值</text>
<text x="1029.5" y="111.7" font-size="16.3" font-weight="bold" fill="#fff" text-anchor="middle">锌效率</text>
<line x1="848.6" x2="1210.2" y1="259.5" y2="259.5" stroke="#aab3cf" stroke-width="1"/>
<line x1="848.6" x2="1210.2" y1="227.5" y2="227.5" stroke="#aab3cf" stroke-width="1"/>
<line x1="848.6" x2="1210.2" y1="194.5" y2="194.5" stroke="#aab3cf" stroke-width="1"/>
<line x1="848.6" x2="1210.2" y1="162.5" y2="162.5" stroke="#aab3cf" stroke-width="1"/>
<line x1="848.6" x2="1210.2" y1="130.5" y2="130.5" stroke="#aab3cf" stroke-width="1"/>
<rect x="857.6" y="148.1" width="31.4" height="143.7" fill="#ff8c00"/>
<rect x="898.5" y="183.0" width="31.4" height="108.8" fill="#ff69b4"/>
<rect x="948.0" y="151.3" width="31.4" height="140.5" fill="#ff8c00"/>
<rect x="988.9" y="166.6" width="31.4" height="125.2" fill="#ff69b4"/>
<rect x="1038.4" y="149.9" width="31.4" height="141.9" fill="#ff8c00"/>
<rect x="1079.3" y="160.8" width="31.4" height="131.0" fill="#ff69b4"/>
<rect x="1128.8" y="149.8" width="31.4" height="142.0" fill="#ff8c00"/>
<rect x="1169.7" y="170.1" width="31.4" height="121.7" fill="#ff69b4"/>
<line x1="848.6" x2="1210.2" y1="291.5" y2="291.5" stroke="#2b2f3a" stroke-width="1"/>
<line x1="848.5" x2="848.5" y1="130.2" y2="291.8" stroke="#2b2f3a" stroke-width="1"/>
<line x1="1210.2" x2="1210.2" y1="130.2" y2="291.8" stroke="#2b2f3a" stroke-width="1"/>
<line x1="848.6" x2="848.6" y1="291.8" y2="295.8" stroke="#2b2f3a" stroke-width="1"/>
<line x1="939.0" x2="939.0" y1="291.8" y2="295.8" stroke="#2b2f3a" stroke-width="1"/>
<line x1="1029.4" x2="1029.4" y1="291.8" y2="295.8" stroke="#2b2f3a" stroke-width="1"/>
<line x1="1119.8" x2="1119.8" y1="291.8" y2="295.8" stroke="#2b2f3a" stroke-width="1"/>
<line x1="1210.2" x2="1210.2" y1="291.8" y2="295.8" stroke="#2b2f3a" stroke-width="1"/>
<line x1="844.6" x2="848.6" y1="291.8" y2="291.8" stroke="#2b2f3a" stroke-width="1"/>
<line x1="1210.2" x2="1214.2" y1="291.8" y2="291.8" stroke="#2b2f3a" stroke-width="1"/>
<line x1="844.6" x2="848.6" y1="259.5" y2="259.5" stroke="#2b2f3a" stroke-width="1"/>
<line x1="1210.2" x2="1214.2" y1="259.5" y2="259.5" stroke="#2b2f3a" stroke-width="1"/>
<line x1="844.6" x2="848.6" y1="227.2" y2="227.2" stroke="#2b2f3a" stroke-width="1"/>
<line x1="1210.2" x2="1214.2" y1="227.2" y2="227.2" stroke="#2b2f3a" stroke-width="1"/>
<line x1="844.6" x2="848.6" y1="194.8" y2="194.8" stroke="#2b2f3a" stroke-width="1"/>
<line x1="1210.2" x2="1214.2" y1="194.8" y2="194.8" stroke="#2b2f3a" stroke-width="1"/>
<line x1="844.6" x2="848.6" y1="162.5" y2="162.5" stroke="#2b2f3a" stroke-width="1"/>
<line x1="1210.2" x2="1214.2" y1="162.5" y2="162.5" stroke="#2b2f3a" stroke-width="1"/>
<line x1="844.6" x2="848.6" y1="130.2" y2="130.2" stroke="#2b2f3a" stroke-width="1"/>
<line x1="1210.2" x2="1214.2" y1="130.2" y2="130.2" stroke="#2b2f3a" stroke-width="1"/>
<text x="873.4" y="161.0" font-size="11" fill="#fff" text-anchor="middle">88.94</text>
<text x="914.2" y="195.9" font-size="11" fill="#fff" text-anchor="middle">67.32</text>
<text x="963.8" y="164.3" font-size="11" fill="#fff" text-anchor="middle">86.92</text>
<text x="1004.6" y="179.6" font-size="11" fill="#fff" text-anchor="middle">77.45</text>
<text x="1054.2" y="162.9" font-size="11" fill="#fff" text-anchor="middle">87.79</text>
<text x="1095.0" y="173.7" font-size="11" fill="#fff" text-anchor="middle">81.07</text>
<text x="1144.6" y="162.7" font-size="11" fill="#fff" text-anchor="middle">87.88</text>
<text x="1185.4" y="183.1" font-size="11" fill="#fff" text-anchor="middle">75.28</text>
<text x="838.5" y="294.2" font-size="11" fill="#e4e6f0" text-anchor="end">0</text>
<text x="1218.2" y="294.2" font-size="11" fill="#e4e6f0">0</text>
<text x="838.5" y="261.8" font-size="11" fill="#e4e6f0" text-anchor="end">20</text>
<text x="1218.2" y="261.8" font-size="11" fill="#e4e6f0">20</text>
<text x="838.5" y="229.5" font-size="11" fill="#e4e6f0" text-anchor="end">40</text>
<text x="1218.2" y="229.5" font-size="11" fill="#e4e6f0">40</text>
<text x="838.5" y="197.2" font-size="11" fill="#e4e6f0" text-anchor="end">60</text>
<text x="1218.2" y="197.2" font-size="11" fill="#e4e6f0">60</text>
<text x="838.5" y="164.9" font-size="11" fill="#e4e6f0" text-anchor="end">80</text>
<text x="1218.2" y="164.9" font-size="11" fill="#e4e6f0">80</text>
<text x="838.5" y="132.6" font-size="11" fill="#e4e6f0" text-anchor="end">100</text>
<text x="1218.2" y="132.6" font-size="11" fill="#e4e6f0">100</text>
<text x="893.8" y="307.0" font-size="11" fill="#e4e6f0" text-anchor="middle">甲班</text>
<text x="984.2" y="307.0" font-size="11" fill="#e4e6f0" text-anchor="middle">乙班</text>
<text x="1074.6" y="307.0" font-size="11" fill="#e4e6f0" text-anchor="middle">丙班</text>
<text x="1165.0" y="307.0" font-size="11" fill="#e4e6f0" text-anchor="middle">总车间</text>
<line x1="893.8" x2="1165.0" y1="162.5" y2="162.5" stroke="#c23531" stroke-width="1.6"/>
<circle cx="893.8" cy="162.5" r="1.8" fill="#fff" stroke="#c23531" stroke-width="1"/>
<circle cx="984.2" cy="162.5" r="1.8" fill="#fff" stroke="#c23531" stroke-width="1"/>
<circle cx="1074.6" cy="162.5" r="1.8" fill="#fff" stroke="#c23531" stroke-width="1"/>
<circle cx="1165.0" cy="162.5" r="1.8" fill="#fff" stroke="#c23531" stroke-width="1"/>
<rect x="1279.6" y="80.5" width="22" height="12" rx="2.5" fill="#5793cc"/>
<text x="1306.1" y="89.5" font-size="11" fill="#e4e6f0">无铬</text>
<rect x="1337.2" y="80.5" width="22" height="12" rx="2.5" fill="#ffbb2e"/>
<text x="1363.7" y="89.5" font-size="11" fill="#e4e6f0">三价铬</text>
<rect x="1405.6" y="80.5" width="22" height="12" rx="2.5" fill="#a871ee"/>
<text x="1432.1" y="89.5" font-size="11" fill="#e4e6f0">耐指纹</text>
<text x="1578.5" y="111.3" font-size="16.3" font-weight="bold" fill="#fff" text-anchor="middle">辊涂单耗(日)</text>
<line x1="1335.6" x2="1821.8" y1="151.5" y2="151.5" stroke="#aab3cf" stroke-width="1"/>
<line x1="1335.6" x2="1821.8" y1="146.5" y2="146.5" stroke="#aab3cf" stroke-width="1"/>
<line x1="1335.6" x2="1821.8" y1="140.5" y2="140.5" stroke="#aab3cf" stroke-width="1"/>
<line x1="1335.6" x2="1821.8" y1="135.5" y2="135.5" stroke="#aab3cf" stroke-width="1"/>
<line x1="1335.6" x2="1821.8" y1="130.5" y2="130.5" stroke="#aab3cf" stroke-width="1"/>
<line x1="1335.6" x2="1821.8" y1="156.5" y2="156.5" stroke="#2b2f3a" stroke-width="1"/>
<line x1="1335.5" x2="1335.5" y1="130.1" y2="156.7" stroke="#2b2f3a" stroke-width="1"/>
<line x1="1331.6" x2="1335.6" y1="156.7" y2="156.7" stroke="#2b2f3a" stroke-width="1"/>
<line x1="1331.6" x2="1335.6" y1="151.4" y2="151.4" stroke="#2b2f3a" stroke-width="1"/>
<line x1="1331.6" x2="1335.6" y1="146.1" y2="146.1" stroke="#2b2f3a" stroke-width="1"/>
<line x1="1331.6" x2="1335.6" y1="140.7" y2="140.7" stroke="#2b2f3a" stroke-width="1"/>
<line x1="1331.6" x2="1335.6" y1="135.4" y2="135.4" stroke="#2b2f3a" stroke-width="1"/>
<line x1="1331.6" x2="1335.6" y1="130.1" y2="130.1" stroke="#2b2f3a" stroke-width="1"/>
<text x="1364.0" y="159.4" font-size="13" fill="#fff" stroke="#9cc6ea" stroke-width="2.2" paint-order="stroke" stroke-linejoin="round" text-anchor="middle">0.00</text>
<text x="1396.4" y="159.4" font-size="13" fill="#fff" stroke="#f6c65a" stroke-width="2.2" paint-order="stroke" stroke-linejoin="round" text-anchor="middle">0.00</text>
<text x="1428.8" y="159.4" font-size="13" fill="#fff" stroke="#c79cf6" stroke-width="2.2" paint-order="stroke" stroke-linejoin="round" text-anchor="middle">0.00</text>
<text x="1485.5" y="159.4" font-size="13" fill="#fff" stroke="#9cc6ea" stroke-width="2.2" paint-order="stroke" stroke-linejoin="round" text-anchor="middle">0.00</text>
<text x="1517.9" y="159.4" font-size="13" fill="#fff" stroke="#f6c65a" stroke-width="2.2" paint-order="stroke" stroke-linejoin="round" text-anchor="middle">0.00</text>
<text x="1550.3" y="159.4" font-size="13" fill="#fff" stroke="#c79cf6" stroke-width="2.2" paint-order="stroke" stroke-linejoin="round" text-anchor="middle">0.00</text>
<text x="1607.1" y="159.4" font-size="13" fill="#fff" stroke="#9cc6ea" stroke-width="2.2" paint-order="stroke" stroke-linejoin="round" text-anchor="middle">0.00</text>
<text x="1639.5" y="159.4" font-size="13" fill="#fff" stroke="#f6c65a" stroke-width="2.2" paint-order="stroke" stroke-linejoin="round" text-anchor="middle">0.00</text>
<text x="1671.9" y="159.4" font-size="13" fill="#fff" stroke="#c79cf6" stroke-width="2.2" paint-order="stroke" stroke-linejoin="round" text-anchor="middle">0.00</text>
<text x="1728.6" y="159.4" font-size="13" fill="#fff" stroke="#9cc6ea" stroke-width="2.2" paint-order="stroke" stroke-linejoin="round" text-anchor="middle">0.00</text>
<text x="1761.0" y="159.4" font-size="13" fill="#fff" stroke="#f6c65a" stroke-width="2.2" paint-order="stroke" stroke-linejoin="round" text-anchor="middle">0.00</text>
<text x="1793.4" y="159.4" font-size="13" fill="#fff" stroke="#c79cf6" stroke-width="2.2" paint-order="stroke" stroke-linejoin="round" text-anchor="middle">0.00</text>
<text x="1328.8" y="153.7" font-size="11" fill="#e4e6f0" text-anchor="end">0.2</text>
<text x="1328.8" y="148.4" font-size="11" fill="#e4e6f0" text-anchor="end">0.4</text>
<text x="1328.8" y="143.1" font-size="11" fill="#e4e6f0" text-anchor="end">0.6</text>
<text x="1328.8" y="137.8" font-size="11" fill="#e4e6f0" text-anchor="end">0.8</text>
<text x="1396.4" y="171.3" font-size="11" fill="#e4e6f0" text-anchor="middle">甲班</text>
<text x="1517.9" y="171.3" font-size="11" fill="#e4e6f0" text-anchor="middle">乙班</text>
<text x="1639.5" y="171.3" font-size="11" fill="#e4e6f0" text-anchor="middle">丙班</text>
<text x="1761.0" y="171.3" font-size="11" fill="#e4e6f0" text-anchor="middle">总车间</text>
<rect x="1279.6" y="214.5" width="22" height="12" rx="2.5" fill="#5793cc"/>
<text x="1306.1" y="223.5" font-size="11" fill="#e4e6f0">无铬</text>
<rect x="1337.2" y="214.5" width="22" height="12" rx="2.5" fill="#ffbb2e"/>
<text x="1363.7" y="223.5" font-size="11" fill="#e4e6f0">三价铬</text>
<rect x="1405.6" y="214.5" width="22" height="12" rx="2.5" fill="#a871ee"/>
<text x="1432.1" y="223.5" font-size="11" fill="#e4e6f0">耐指纹</text>
<text x="1578.5" y="245.3" font-size="16.3" font-weight="bold" fill="#fff" text-anchor="middle">辊涂单耗(月)</text>
<line x1="1335.6" x2="1821.8" y1="286.5" y2="286.5" stroke="#aab3cf" stroke-width="1"/>
<line x1="1335.6" x2="1821.8" y1="283.5" y2="283.5" stroke="#aab3cf" stroke-width="1"/>
<line x1="1335.6" x2="1821.8" y1="279.5" y2="279.5" stroke="#aab3cf" stroke-width="1"/>
<line x1="1335.6" x2="1821.8" y1="275.5" y2="275.5" stroke="#aab3cf" stroke-width="1"/>
<line x1="1335.6" x2="1821.8" y1="271.5" y2="271.5" stroke="#aab3cf" stroke-width="1"/>
<line x1="1335.6" x2="1821.8" y1="267.5" y2="267.5" stroke="#aab3cf" stroke-width="1"/>
<line x1="1335.6" x2="1821.8" y1="264.5" y2="264.5" stroke="#aab3cf" stroke-width="1"/>
<rect x="1347.8" y="280.2" width="32.4" height="10.5" fill="#5793cc"/>
<rect x="1380.2" y="269.0" width="32.4" height="21.7" fill="#ffbb2e"/>
<rect x="1501.7" y="266.9" width="32.4" height="23.8" fill="#ffbb2e"/>
<rect x="1623.3" y="273.1" width="32.4" height="17.6" fill="#ffbb2e"/>
<rect x="1712.4" y="287.2" width="32.4" height="3.5" fill="#5793cc"/>
<rect x="1744.8" y="269.7" width="32.4" height="21.0" fill="#ffbb2e"/>
<line x1="1335.6" x2="1821.8" y1="290.5" y2="290.5" stroke="#2b2f3a" stroke-width="1"/>
<line x1="1335.5" x2="1335.5" y1="264.1" y2="290.7" stroke="#2b2f3a" stroke-width="1"/>
<line x1="1331.6" x2="1335.6" y1="290.7" y2="290.7" stroke="#2b2f3a" stroke-width="1"/>
<line x1="1331.6" x2="1335.6" y1="286.9" y2="286.9" stroke="#2b2f3a" stroke-width="1"/>
<line x1="1331.6" x2="1335.6" y1="283.1" y2="283.1" stroke="#2b2f3a" stroke-width="1"/>
<line x1="1331.6" x2="1335.6" y1="279.3" y2="279.3" stroke="#2b2f3a" stroke-width="1"/>
<line x1="1331.6" x2="1335.6" y1="275.5" y2="275.5" stroke="#2b2f3a" stroke-width="1"/>
<line x1="1331.6" x2="1335.6" y1="271.7" y2="271.7" stroke="#2b2f3a" stroke-width="1"/>
<line x1="1331.6" x2="1335.6" y1="267.9" y2="267.9" stroke="#2b2f3a" stroke-width="1"/>
<line x1="1331.6" x2="1335.6" y1="264.1" y2="264.1" stroke="#2b2f3a" stroke-width="1"/>
<text x="1364.0" y="288.1" font-size="13" fill="#fff" stroke="#9cc6ea" stroke-width="2.2" paint-order="stroke" stroke-linejoin="round" text-anchor="middle">0.83</text>
<text x="1396.4" y="282.6" font-size="13" fill="#fff" text-anchor="middle">1.71</text>
<text x="1428.8" y="293.4" font-size="13" fill="#fff" stroke="#c79cf6" stroke-width="2.2" paint-order="stroke" stroke-linejoin="round" text-anchor="middle">0.00</text>
<text x="1485.5" y="293.4" font-size="13" fill="#fff" stroke="#9cc6ea" stroke-width="2.2" paint-order="stroke" stroke-linejoin="round" text-anchor="middle">0.00</text>
<text x="1517.9" y="281.5" font-size="13" fill="#fff" text-anchor="middle">1.88</text>
<text x="1550.3" y="293.4" font-size="13" fill="#fff" stroke="#c79cf6" stroke-width="2.2" paint-order="stroke" stroke-linejoin="round" text-anchor="middle">0.00</text>
<text x="1607.1" y="293.4" font-size="13" fill="#fff" stroke="#9cc6ea" stroke-width="2.2" paint-order="stroke" stroke-linejoin="round" text-anchor="middle">0.00</text>
<text x="1639.5" y="284.6" font-size="13" fill="#fff" text-anchor="middle">1.39</text>
<text x="1671.9" y="293.4" font-size="13" fill="#fff" stroke="#c79cf6" stroke-width="2.2" paint-order="stroke" stroke-linejoin="round" text-anchor="middle">0.00</text>
<text x="1728.6" y="291.6" font-size="13" fill="#fff" stroke="#9cc6ea" stroke-width="2.2" paint-order="stroke" stroke-linejoin="round" text-anchor="middle">0.28</text>
<text x="1761.0" y="282.9" font-size="13" fill="#fff" text-anchor="middle">1.66</text>
<text x="1793.4" y="293.4" font-size="13" fill="#fff" stroke="#c79cf6" stroke-width="2.2" paint-order="stroke" stroke-linejoin="round" text-anchor="middle">0.00</text>
<text x="1328.8" y="289.3" font-size="11" fill="#e4e6f0" text-anchor="end">0.3</text>
<text x="1328.8" y="285.5" font-size="11" fill="#e4e6f0" text-anchor="end">0.6</text>
<text x="1328.8" y="281.7" font-size="11" fill="#e4e6f0" text-anchor="end">0.9</text>
<text x="1328.8" y="277.9" font-size="11" fill="#e4e6f0" text-anchor="end">1.2</text>
<text x="1328.8" y="274.1" font-size="11" fill="#e4e6f0" text-anchor="end">1.5</text>
<text x="1328.8" y="270.3" font-size="11" fill="#e4e6f0" text-anchor="end">1.8</text>
<text x="1396.4" y="305.3" font-size="11" fill="#e4e6f0" text-anchor="middle">甲班</text>
<text x="1517.9" y="305.3" font-size="11" fill="#e4e6f0" text-anchor="middle">乙班</text>
<text x="1639.5" y="305.3" font-size="11" fill="#e4e6f0" text-anchor="middle">丙班</text>
<text x="1761.0" y="305.3" font-size="11" fill="#e4e6f0" text-anchor="middle">总车间</text>
<rect x="1279.6" y="364.5" width="22" height="12" rx="2.5" fill="#ff7256"/>
<text x="1306.1" y="373.5" font-size="11" fill="#e4e6f0">日</text>
<rect x="1326.5" y="364.5" width="22" height="12" rx="2.5" fill="#00e600"/>
<text x="1353.0" y="373.5" font-size="11" fill="#e4e6f0">月</text>
<text x="1580" y="395.5" font-size="16.3" font-weight="bold" fill="#fff" text-anchor="middle">质量合格率</text>
<line x1="1337.0" x2="1824.4" y1="555.5" y2="555.5" stroke="#aab3cf" stroke-width="1"/>
<line x1="1337.0" x2="1824.4" y1="519.5" y2="519.5" stroke="#aab3cf" stroke-width="1"/>
<line x1="1337.0" x2="1824.4" y1="484.5" y2="484.5" stroke="#aab3cf" stroke-width="1"/>
<line x1="1337.0" x2="1824.4" y1="449.5" y2="449.5" stroke="#aab3cf" stroke-width="1"/>
<line x1="1337.0" x2="1824.4" y1="414.5" y2="414.5" stroke="#aab3cf" stroke-width="1"/>
<rect x="1349.2" y="414.1" width="48.7" height="176.2" fill="#ff7256"/>
<rect x="1397.9" y="420.3" width="48.7" height="170.0" fill="#00e600"/>
<rect x="1471.0" y="422.3" width="48.7" height="168.0" fill="#ff7256"/>
<rect x="1519.8" y="419.8" width="48.7" height="170.5" fill="#00e600"/>
<rect x="1592.9" y="416.0" width="48.7" height="174.3" fill="#ff7256"/>
<rect x="1641.6" y="419.6" width="48.7" height="170.7" fill="#00e600"/>
<rect x="1714.7" y="417.7" width="48.7" height="172.6" fill="#ff7256"/>
<rect x="1763.5" y="419.9" width="48.7" height="170.4" fill="#00e600"/>
<line x1="1337.0" x2="1824.4" y1="590.5" y2="590.5" stroke="#2b2f3a" stroke-width="1"/>
<line x1="1337.5" x2="1337.5" y1="414.1" y2="590.3" stroke="#2b2f3a" stroke-width="1"/>
<text x="1373.6" y="504.9" font-size="13" fill="#fff" text-anchor="middle">100.00</text>
<text x="1422.3" y="508.0" font-size="13" fill="#fff" text-anchor="middle">96.48</text>
<text x="1495.4" y="509.0" font-size="13" fill="#fff" text-anchor="middle">95.32</text>
<text x="1544.1" y="507.7" font-size="13" fill="#fff" text-anchor="middle">96.75</text>
<text x="1617.3" y="505.8" font-size="13" fill="#fff" text-anchor="middle">98.91</text>
<text x="1666.0" y="507.6" font-size="13" fill="#fff" text-anchor="middle">96.86</text>
<text x="1739.1" y="506.7" font-size="13" fill="#fff" text-anchor="middle">97.98</text>
<text x="1787.8" y="507.8" font-size="13" fill="#fff" text-anchor="middle">96.72</text>
<text x="1329.4" y="592.7" font-size="11" fill="#e4e6f0" text-anchor="end">0</text>
<text x="1329.4" y="557.4" font-size="11" fill="#e4e6f0" text-anchor="end">20</text>
<text x="1329.4" y="522.2" font-size="11" fill="#e4e6f0" text-anchor="end">40</text>
<text x="1329.4" y="486.9" font-size="11" fill="#e4e6f0" text-anchor="end">60</text>
<text x="1329.4" y="451.7" font-size="11" fill="#e4e6f0" text-anchor="end">80</text>
<text x="1329.4" y="416.5" font-size="11" fill="#e4e6f0" text-anchor="end">100</text>
<text x="1397.9" y="605.5" font-size="11" fill="#e4e6f0" text-anchor="middle">甲班</text>
<text x="1519.8" y="605.5" font-size="11" fill="#e4e6f0" text-anchor="middle">乙班</text>
<text x="1641.6" y="605.5" font-size="11" fill="#e4e6f0" text-anchor="middle">丙班</text>
<text x="1763.5" y="605.5" font-size="11" fill="#e4e6f0" text-anchor="middle">总车间</text>
<rect x="1279.6" y="648.3" width="22" height="12" rx="2.5" fill="#00bfff"/>
<text x="1306.1" y="657.3" font-size="11" fill="#e4e6f0">日</text>
<rect x="1326.5" y="648.3" width="22" height="12" rx="2.5" fill="#b03060"/>
<text x="1353.0" y="657.3" font-size="11" fill="#e4e6f0">月</text>
<text x="1580" y="679.5" font-size="16.3" font-weight="bold" fill="#fff" text-anchor="middle">小时产量</text>
<line x1="1337.0" x2="1824.4" y1="843.5" y2="843.5" stroke="#aab3cf" stroke-width="1"/>
<line x1="1337.0" x2="1824.4" y1="814.5" y2="814.5" stroke="#aab3cf" stroke-width="1"/>
<line x1="1337.0" x2="1824.4" y1="785.5" y2="785.5" stroke="#aab3cf" stroke-width="1"/>
<line x1="1337.0" x2="1824.4" y1="756.5" y2="756.5" stroke="#aab3cf" stroke-width="1"/>
<line x1="1337.0" x2="1824.4" y1="727.5" y2="727.5" stroke="#aab3cf" stroke-width="1"/>
<line x1="1337.0" x2="1824.4" y1="698.5" y2="698.5" stroke="#aab3cf" stroke-width="1"/>
<rect x="1349.2" y="738.0" width="48.7" height="135.0" fill="#00bfff"/>
<rect x="1397.9" y="748.5" width="48.7" height="124.5" fill="#b03060"/>
<rect x="1471.0" y="726.7" width="48.7" height="146.3" fill="#00bfff"/>
<rect x="1519.8" y="743.3" width="48.7" height="129.7" fill="#b03060"/>
<rect x="1592.9" y="746.1" width="48.7" height="126.9" fill="#00bfff"/>
<rect x="1641.6" y="745.6" width="48.7" height="127.4" fill="#b03060"/>
<rect x="1714.7" y="736.9" width="48.7" height="136.1" fill="#00bfff"/>
<rect x="1763.5" y="745.8" width="48.7" height="127.2" fill="#b03060"/>
<line x1="1337.0" x2="1824.4" y1="873.5" y2="873.5" stroke="#2b2f3a" stroke-width="1"/>
<line x1="1337.5" x2="1337.5" y1="698.5" y2="873.0" stroke="#2b2f3a" stroke-width="1"/>
<text x="1373.6" y="808.2" font-size="13" fill="#fff" text-anchor="middle">23.21</text>
<text x="1422.3" y="813.4" font-size="13" fill="#fff" text-anchor="middle">21.40</text>
<text x="1495.4" y="802.5" font-size="13" fill="#fff" text-anchor="middle">25.15</text>
<text x="1544.1" y="810.9" font-size="13" fill="#fff" text-anchor="middle">22.29</text>
<text x="1617.3" y="812.2" font-size="13" fill="#fff" text-anchor="middle">21.82</text>
<text x="1666.0" y="812.0" font-size="13" fill="#fff" text-anchor="middle">21.91</text>
<text x="1739.1" y="807.7" font-size="13" fill="#fff" text-anchor="middle">23.39</text>
<text x="1787.8" y="812.1" font-size="13" fill="#fff" text-anchor="middle">21.87</text>
<text x="1329.4" y="875.4" font-size="11" fill="#e4e6f0" text-anchor="end">0</text>
<text x="1329.4" y="846.3" font-size="11" fill="#e4e6f0" text-anchor="end">5</text>
<text x="1329.4" y="817.2" font-size="11" fill="#e4e6f0" text-anchor="end">10</text>
<text x="1329.4" y="788.1" font-size="11" fill="#e4e6f0" text-anchor="end">15</text>
<text x="1329.4" y="759.0" font-size="11" fill="#e4e6f0" text-anchor="end">20</text>
<text x="1329.4" y="729.9" font-size="11" fill="#e4e6f0" text-anchor="end">25</text>
<text x="1329.4" y="700.9" font-size="11" fill="#e4e6f0" text-anchor="end">30</text>
<text x="1397.9" y="888.0" font-size="11" fill="#e4e6f0" text-anchor="middle">甲班</text>
<text x="1519.8" y="888.0" font-size="11" fill="#e4e6f0" text-anchor="middle">乙班</text>
<text x="1641.6" y="888.0" font-size="11" fill="#e4e6f0" text-anchor="middle">丙班</text>
<text x="1763.5" y="888.0" font-size="11" fill="#e4e6f0" text-anchor="middle">总车间</text>
<defs><linearGradient id="tbg" x1="0" y1="0" x2="0" y2="1"><stop offset="0" stop-color="#b8bcc8"/><stop offset="0.42" stop-color="#4a4f5e"/><stop offset="0.46" stop-color="#1e2334"/><stop offset="1" stop-color="#1e2334"/></linearGradient><radialGradient id="hq" cx="0.4" cy="0.3" r="0.8"><stop offset="0" stop-color="#2a3cff"/><stop offset="1" stop-color="#060a9c"/></radialGradient></defs>
<g>
<rect x="1783" y="618.3" width="79.2" height="25.5" fill="#0c1022"/>
<rect x="1783" y="619.2" width="79.2" height="24" fill="url(#tbg)"/>
<rect x="1783" y="619.2" width="79.2" height="1.1" fill="#fff"/>
<rect x="1786.9" y="623.2" width="1.6" height="1.6" fill="#05060c"/><rect x="1788.0" y="624.3" width="0.9" height="0.9" fill="#8d93a6"/>
<rect x="1790.2" y="623.2" width="1.6" height="1.6" fill="#05060c"/><rect x="1791.3" y="624.3" width="0.9" height="0.9" fill="#8d93a6"/>
<rect x="1793.4" y="623.2" width="1.6" height="1.6" fill="#05060c"/><rect x="1794.5" y="624.3" width="0.9" height="0.9" fill="#8d93a6"/>
<rect x="1786.9" y="627.1" width="1.6" height="1.6" fill="#05060c"/><rect x="1788.0" y="628.1999999999999" width="0.9" height="0.9" fill="#8d93a6"/>
<rect x="1790.2" y="627.1" width="1.6" height="1.6" fill="#05060c"/><rect x="1791.3" y="628.1999999999999" width="0.9" height="0.9" fill="#8d93a6"/>
<rect x="1793.4" y="627.1" width="1.6" height="1.6" fill="#05060c"/><rect x="1794.5" y="628.1999999999999" width="0.9" height="0.9" fill="#8d93a6"/>
<rect x="1786.9" y="630.9000000000001" width="1.6" height="1.6" fill="#05060c"/><rect x="1788.0" y="632.0" width="0.9" height="0.9" fill="#8d93a6"/>
<rect x="1790.2" y="630.9000000000001" width="1.6" height="1.6" fill="#05060c"/><rect x="1791.3" y="632.0" width="0.9" height="0.9" fill="#8d93a6"/>
<rect x="1793.4" y="630.9000000000001" width="1.6" height="1.6" fill="#05060c"/><rect x="1794.5" y="632.0" width="0.9" height="0.9" fill="#8d93a6"/>
<rect x="1786.9" y="634.7" width="1.6" height="1.6" fill="#05060c"/><rect x="1788.0" y="635.8" width="0.9" height="0.9" fill="#8d93a6"/>
<rect x="1790.2" y="634.7" width="1.6" height="1.6" fill="#05060c"/><rect x="1791.3" y="635.8" width="0.9" height="0.9" fill="#8d93a6"/>
<rect x="1793.4" y="634.7" width="1.6" height="1.6" fill="#05060c"/><rect x="1794.5" y="635.8" width="0.9" height="0.9" fill="#8d93a6"/>
<rect x="1786.9" y="638.6" width="1.6" height="1.6" fill="#05060c"/><rect x="1788.0" y="639.6999999999999" width="0.9" height="0.9" fill="#8d93a6"/>
<rect x="1790.2" y="638.6" width="1.6" height="1.6" fill="#05060c"/><rect x="1791.3" y="639.6999999999999" width="0.9" height="0.9" fill="#8d93a6"/>
<rect x="1793.4" y="638.6" width="1.6" height="1.6" fill="#05060c"/><rect x="1794.5" y="639.6999999999999" width="0.9" height="0.9" fill="#8d93a6"/>
<rect x="1802.4" y="623.4" width="15.4" height="15.4" rx="1.5" fill="#e8f0fb" stroke="#3a72c0" stroke-width="1"/>
<rect x="1805.6" y="626.2" width="11" height="11" fill="#dbe6f7" stroke="#2f5ea8" stroke-width="1"/>
<text x="1811.2" y="636" font-size="11.5" font-weight="bold" fill="#0c1f78" text-anchor="middle">P</text>
<circle cx="1832.2" cy="631" r="6.9" fill="url(#hq)" stroke="#b9b8a8" stroke-width="1.1"/>
<text x="1832.2" y="635.6" font-size="12.5" font-weight="bold" fill="#fff" text-anchor="middle">?</text>
<rect x="1851" y="626" width="5.3" height="2" fill="#fff"/>
<path d="M1850.8 635 h5.8 l-2.9 3.6 z" fill="#fff"/>
</g>
</svg>
</body></html>
